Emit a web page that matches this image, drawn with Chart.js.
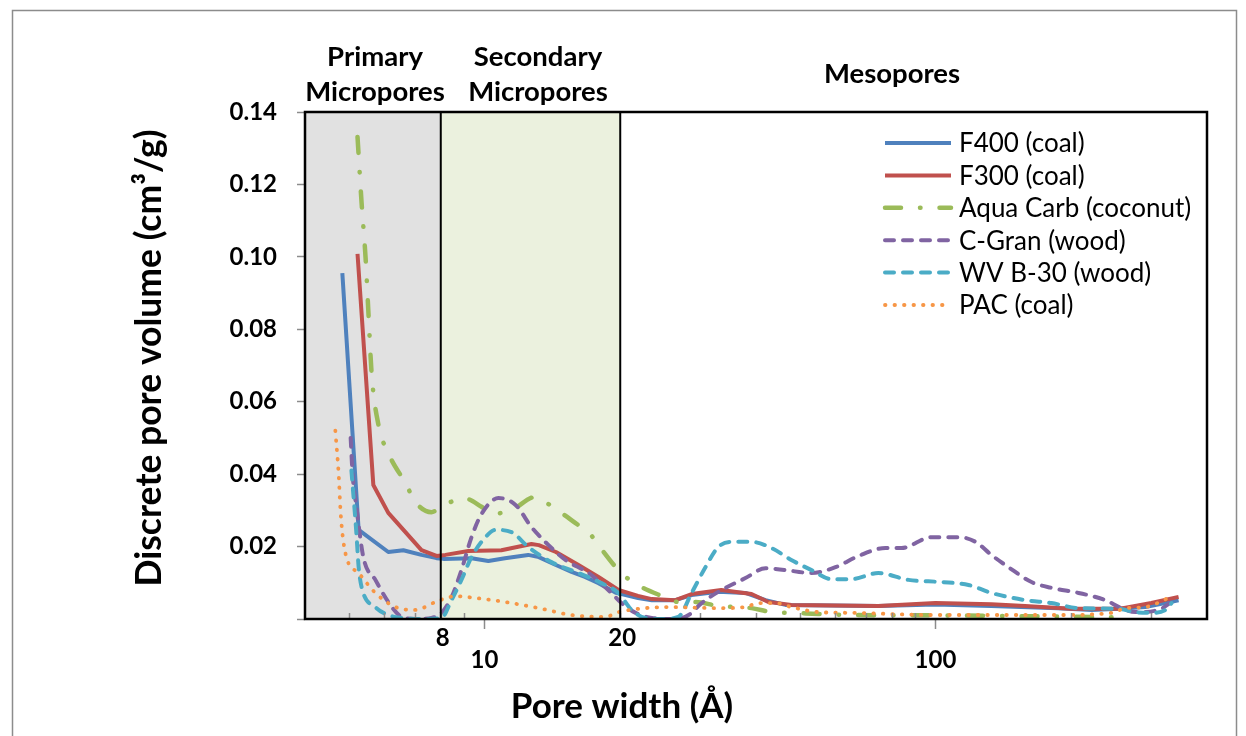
<!DOCTYPE html>
<html><head><meta charset="utf-8">
<script src="https://cdn.jsdelivr.net/npm/chart.js@4.4.1/dist/chart.umd.min.js"></script>
<style>html,body{margin:0;padding:0;background:#fff;} canvas{display:block;}</style>
</head><body><canvas id="c" width="1246" height="736"></canvas>
<script>
// ---- data (pore width in Å, discrete pore volume in cm3/g) ----
const seriesNames = ['F400 (coal)', 'F300 (coal)', 'Aqua Carb (coconut)', 'C-Gran (wood)', 'WV B-30 (wood)', 'PAC (coal)'];
const f400 = [[4.84,0.0955],[5.26,0.0246],[6.12,0.0185],[6.61,0.019],[7.25,0.0177],[7.83,0.0168],[8.11,0.0166],[9.36,0.0168],[10.2,0.016],[11.1,0.0168],[12.5,0.0177],[13.2,0.0171],[14.4,0.0149],[15.6,0.013],[16.7,0.0116],[17.9,0.0099],[19.6,0.0072],[21.9,0.0058],[23.5,0.0052],[26.5,0.0052],[28.8,0.0066],[33.0,0.0075],[37.9,0.0072],[42.0,0.0052],[46.5,0.0039],[74.7,0.0036],[100,0.004],[133,0.0036],[187,0.003],[222,0.0025],[255,0.0028],[292,0.0033],[346,0.0052]];
const f300 = [[5.23,0.1008],[5.67,0.037],[6.12,0.0293],[7.25,0.019],[7.83,0.0174],[8.19,0.0177],[9.21,0.0188],[10.9,0.019],[12.71,0.0207],[13.2,0.0204],[14.4,0.0185],[16.16,0.0149],[17.9,0.0116],[19.82,0.008],[21.9,0.0064],[23.5,0.0055],[26.5,0.0052],[28.8,0.0069],[33.5,0.008],[39.1,0.0069],[42.6,0.0047],[47.9,0.0039],[74.7,0.0036],[100,0.0044],[133,0.0041],[158,0.0036],[200,0.0028],[255,0.0028],[301,0.0044],[346,0.0061]];
const aquaCarb = [[5.23,0.1331],[5.34,0.1149],[5.45,0.0997],[5.53,0.0845],[5.62,0.0679],[5.82,0.0536],[6.12,0.0458],[6.68,0.0375],[7.06,0.032],[7.63,0.0295],[8.03,0.031],[8.98,0.0334],[9.85,0.031],[10.36,0.029],[11.48,0.0301],[12.98,0.0337],[13.38,0.0329],[14.74,0.0295],[16.16,0.0259],[17.0,0.024],[18.17,0.0193],[19.52,0.0144],[20.34,0.0121],[22.3,0.0088],[24.7,0.0064],[26.9,0.0047],[29.4,0.0047],[33.0,0.0036],[39.1,0.003],[43.3,0.0019],[47.9,0.0017],[55.0,0.0014],[65.1,0.0011],[100,0.001],[150,0.0008],[250,0.0005]];
const cGran = [[5.05,0.05],[5.1,0.04],[5.2,0.031],[5.39,0.017],[5.73,0.0108],[6.12,0.0047],[6.55,0.0006],[7.03,0.0],[7.63,0.0003],[8.03,0.0017],[8.45,0.006],[8.89,0.0135],[9.36,0.0226],[9.85,0.029],[10.74,0.0334],[11.72,0.0315],[12.71,0.0254],[13.87,0.0204],[15.12,0.0163],[17.0,0.0127],[19.12,0.0072],[20.13,0.0044],[21.63,0.0017],[23.5,0.0003],[26.5,0.0],[28.35,0.0011],[30.3,0.0044],[33.0,0.0075],[37.9,0.0113],[42.0,0.014],[46.5,0.0135],[53.1,0.0127],[60.0,0.0143],[67.5,0.0174],[77.5,0.0196],[84.1,0.0196],[98.0,0.0226],[112.4,0.0226],[122.7,0.0213],[133,0.0177],[145.2,0.0143],[163.3,0.0102],[180.8,0.0086],[207.6,0.0072],[238.2,0.0052],[258.5,0.003],[277.6,0.0019],[312.3,0.0025],[333.7,0.0047]];
const wvB30 = [[5.07,0.041],[5.2,0.0237],[5.26,0.0144],[5.34,0.0088],[5.73,0.0033],[6.12,0.0011],[6.55,0.0003],[7.25,0.0],[8.03,0.0003],[8.45,0.0052],[8.89,0.0108],[9.36,0.0171],[10.05,0.0226],[10.58,0.0246],[11.48,0.024],[12.5,0.0199],[14.08,0.0157],[16.16,0.0127],[18.17,0.0099],[19.82,0.0072],[21.19,0.0025],[22.75,0.0003],[24.7,0.0],[26.9,0.0006],[28.8,0.0072],[30.9,0.0143],[33.0,0.0199],[35.3,0.0213],[39.1,0.0213],[43.3,0.0196],[47.9,0.0163],[53.1,0.0135],[58.8,0.011],[65.1,0.011],[74.7,0.0127],[87.1,0.0108],[103,0.0102],[118.4,0.0094],[133,0.0072],[158.3,0.0052],[180.8,0.0044],[207.6,0.003],[255,0.0028],[277.6,0.0019],[301,0.0017],[323.6,0.0025],[333.7,0.0044]];
const pac = [[4.67,0.052],[4.75,0.04],[4.8,0.029],[4.92,0.018],[5.26,0.0127],[5.73,0.0072],[6.35,0.0033],[7.03,0.0025],[7.79,0.0047],[8.62,0.0063],[9.55,0.0058],[11.1,0.0047],[13.2,0.003],[15.6,0.0011],[18.55,0.0006],[19.82,0.0019],[22.75,0.003],[25.6,0.0033],[33.0,0.003],[37.9,0.0033],[40.5,0.0044],[44.2,0.0044],[47.9,0.0033],[55.0,0.0019],[65.1,0.0017],[100,0.0011],[187,0.0011],[245.6,0.0017],[263.8,0.003],[292,0.0033],[328.6,0.0058]];
const seriesData = [f400, f300, aquaCarb, cGran, wvB30, pac];

const xRange = [4, 400];
const yRange = [0, 0.14];
const yStep = 0.02;
const xMajorTicks = [10, 100];
const xExtraLabels = [8, 20];
const xMinorTicks = [5, 6, 7, 8, 9, 20, 30, 40, 50, 60, 70, 80, 90, 200, 300];
const zoneEdges = [4, 8, 20, 400];
const zoneLabels = [['Primary', 'Micropores'], ['Secondary', 'Micropores'], ['Mesopores']];
const xTitle = 'Pore width (Å)';
const yTitle = 'Discrete pore volume (cm³/g)';

// ---- styles ----
const colors = ['#4F81BD', '#C0504D', '#9BBB59', '#8064A2', '#4BACC6', '#F79646'];
const dashes = [[], [], [16, 19, 0.5, 19], [9, 9], [9, 9], [0.5, 9]];
const widths = [4, 4, 4.5, 4, 4, 3.8];
const caps = ['butt', 'butt', 'round', 'round', 'round', 'round'];
const FONT = 'Lato';

const decor = {
  id: 'decor',
  beforeDraw(chart) {
    const ctx = chart.ctx;
    ctx.save();
    ctx.fillStyle = '#fff';
    ctx.fillRect(0, 0, chart.width, chart.height);
    ctx.strokeStyle = '#8c8c8c';
    ctx.lineWidth = 1.5;
    ctx.strokeRect(12.5, 10.5, 1224, 800);
    ctx.restore();
  },
  beforeDatasetsDraw(chart) {
    const {ctx, chartArea: a, scales: {x}} = chart;
    const fills = ['#E1E1E1', '#EBF1DE'];
    ctx.save();
    for (let i = 0; i < 2; i++) {
      const x0 = x.getPixelForValue(zoneEdges[i]);
      const x1 = x.getPixelForValue(zoneEdges[i + 1]);
      ctx.fillStyle = fills[i];
      ctx.fillRect(x0, a.top, x1 - x0, a.bottom - a.top);
    }
    ctx.restore();
  },
  afterDatasetsDraw(chart) {
    const {ctx, chartArea: a, scales: {x}} = chart;
    ctx.save();
    ctx.strokeStyle = '#8c8c8c';
    ctx.lineWidth = 1.5;
    xMinorTicks.forEach(v => {
      const px = Math.round(x.getPixelForValue(v)) + 0.5;
      ctx.beginPath(); ctx.moveTo(px, a.bottom); ctx.lineTo(px, a.bottom - 6); ctx.stroke();
    });
    ctx.strokeStyle = '#000';
    ctx.lineWidth = 2;
    [zoneEdges[1], zoneEdges[2]].forEach(v => {
      const px = x.getPixelForValue(v);
      ctx.beginPath(); ctx.moveTo(px, a.top); ctx.lineTo(px, a.bottom); ctx.stroke();
    });
    ctx.lineWidth = 2.5;
    ctx.strokeRect(a.left, a.top, a.right - a.left, a.bottom - a.top);
    ctx.restore();
  },
  afterDraw(chart) {
    const {ctx, scales: {x}} = chart;
    ctx.save();
    ctx.fillStyle = '#000';
    ctx.textAlign = 'center';
    ctx.textBaseline = 'middle';
    ctx.font = `bold 27.5px ${FONT}`;
    const zoneCx = [375, 538, 892];
    zoneLabels.forEach((lines, i) => {
      if (lines.length === 2) {
        ctx.fillText(lines[0], zoneCx[i], 57);
        ctx.fillText(lines[1], zoneCx[i], 92);
      } else {
        ctx.fillText(lines[0], zoneCx[i], 74);
      }
    });
    ctx.font = `bold 24px ${FONT}`;
    xExtraLabels.forEach(v => {
      ctx.fillText(String(v), x.getPixelForValue(v) + 2, 638);
    });
    ctx.font = `bold 35px ${FONT}`;
    ctx.fillText(xTitle, 622, 707);
    ctx.save();
    ctx.translate(150, 358);
    ctx.rotate(-Math.PI / 2);
    ctx.font = `bold 35.5px ${FONT}`;
    ctx.fillText(yTitle, 0, 0);
    ctx.restore();
    ctx.textAlign = 'left';
    ctx.font = `26px ${FONT}`;
    seriesNames.forEach((name, i) => {
      const y = 143 + i * 32.4;
      ctx.save();
      ctx.strokeStyle = colors[i];
      ctx.lineWidth = widths[i];
      ctx.lineCap = caps[i];
      ctx.setLineDash(dashes[i]);
      ctx.beginPath(); ctx.moveTo(885, y); ctx.lineTo(951, y); ctx.stroke();
      ctx.restore();
      ctx.fillText(name, 959, y + 1);
    });
    ctx.restore();
  }
};

function build() {
  new Chart(document.getElementById('c'), {
    type: 'line',
    data: {
      datasets: seriesData.map((d, i) => ({
        label: seriesNames[i],
        data: d.map(p => ({x: p[0], y: p[1]})),
        borderColor: colors[i],
        backgroundColor: colors[i],
        borderWidth: widths[i],
        borderDash: dashes[i],
        borderCapStyle: caps[i],
        borderJoinStyle: 'round',
        pointRadius: 0,
        fill: false,
        tension: i < 2 ? 0 : 0.4,
        cubicInterpolationMode: i < 2 ? 'default' : 'monotone',
        order: seriesData.length - i
      }))
    },
    options: {
      responsive: false,
      animation: false,
      devicePixelRatio: 1,
      layout: {padding: {left: 0, top: 112, right: 39, bottom: 0}},
      plugins: {legend: {display: false}, tooltip: {enabled: false}},
      scales: {
        x: {
          type: 'logarithmic',
          min: xRange[0], max: xRange[1], bounds: 'data',
          afterFit(s) { s.height = 117; },
          afterBuildTicks(s) { s.ticks = xMajorTicks.map(v => ({value: v, major: true})); },
          ticks: {autoSkip: false, maxRotation: 0, color: '#000', padding: 17,
                  font: {family: FONT, size: 24, weight: 'bold'}, callback: v => String(v)},
          grid: {display: true, drawOnChartArea: false, drawTicks: true, tickLength: 10, tickColor: '#8c8c8c', tickWidth: 1.5},
          border: {display: false}
        },
        y: {
          min: yRange[0], max: yRange[1],
          afterFit(s) { s.width = 305; },
          ticks: {stepSize: yStep, color: '#000', padding: 20,
                  font: {family: FONT, size: 24, weight: 'bold'},
                  callback: v => Math.abs(v) < 1e-9 ? '' : Number(v).toFixed(2)},
          grid: {display: true, drawOnChartArea: false, drawTicks: true, tickLength: 8, tickColor: '#8c8c8c', tickWidth: 1.5},
          border: {display: false}
        }
      }
    },
    plugins: [decor]
  });
}
Promise.all([document.fonts.load(`bold 24px ${FONT}`), document.fonts.load(`24px ${FONT}`)]).then(build, build);
</script>
</body></html>
